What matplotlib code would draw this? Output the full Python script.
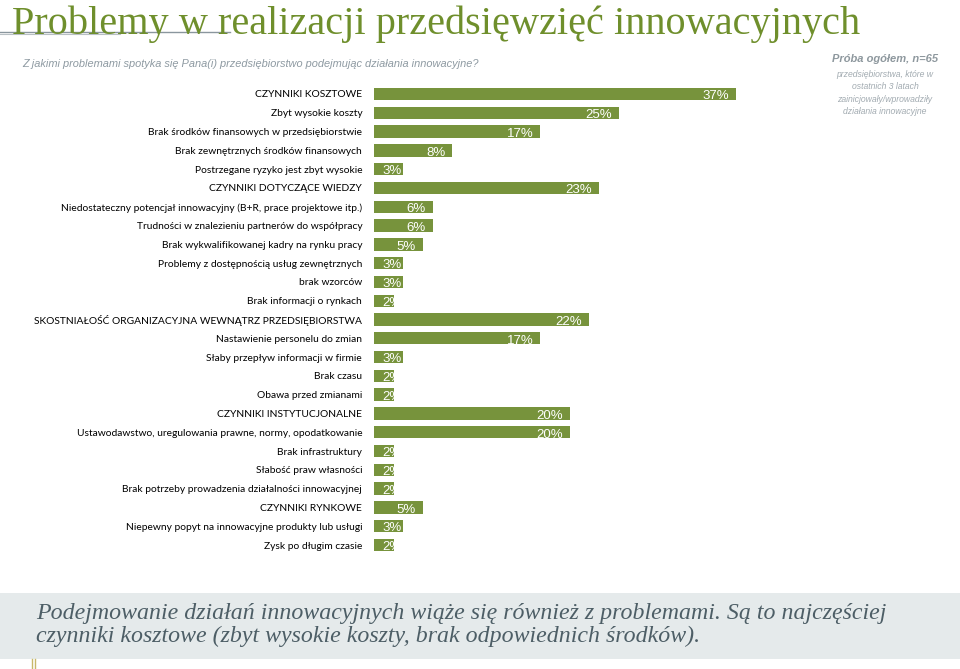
import matplotlib
matplotlib.use('Agg')
import matplotlib.pyplot as plt
from matplotlib.patches import Rectangle
from matplotlib.lines import Line2D

# data
categories = [
    'CZYNNIKI KOSZTOWE',
    'Zbyt wysokie koszty',
    'Brak środków finansowych w przedsiębiorstwie',
    'Brak zewnętrznych środków finansowych',
    'Postrzegane ryzyko jest zbyt wysokie',
    'CZYNNIKI DOTYCZĄCE WIEDZY',
    'Niedostateczny potencjał innowacyjny (B+R, prace projektowe itp.)',
    'Trudności w znalezieniu partnerów do współpracy',
    'Brak wykwalifikowanej kadry na rynku pracy',
    'Problemy z dostępnością usług zewnętrznych',
    'brak wzorców',
    'Brak informacji o rynkach',
    'SKOSTNIAŁOŚĆ ORGANIZACYJNA WEWNĄTRZ PRZEDSIĘBIORSTWA',
    'Nastawienie personelu do zmian',
    'Słaby przepływ informacji w firmie',
    'Brak czasu',
    'Obawa przed zmianami',
    'CZYNNIKI INSTYTUCJONALNE',
    'Ustawodawstwo, uregulowania prawne, normy, opodatkowanie',
    'Brak infrastruktury',
    'Słabość praw własności',
    'Brak potrzeby prowadzenia działalności innowacyjnej',
    'CZYNNIKI RYNKOWE',
    'Niepewny popyt na innowacyjne produkty lub usługi',
    'Zysk po długim czasie',
]
values = [37, 25, 17, 8, 3, 23, 6, 6, 5, 3, 3, 2, 22, 17, 3, 2, 2, 20, 20, 2, 2, 2, 5, 3, 2]

TITLE = 'Problemy w realizacji przedsięwzięć innowacyjnych'
QUESTION = 'Z jakimi problemami spotyka się Pana(i) przedsiębiorstwo podejmując działania innowacyjne?'
SAMPLE_HEAD = 'Próba ogółem, n=65'
SAMPLE_TEXT = 'przedsiębiorstwa, które w\nostatnich 3 latach\nzainicjowały/wprowadziły\ndziałania innowacyjne'
SUMMARY = ('Podejmowanie działań innowacyjnych wiąże się również z problemami. Są to najczęściej\n'
           'czynniki kosztowe (zbyt wysokie koszty, brak odpowiednich środków).')

BAR_COLOR = '#77933c'
TITLE_COLOR = '#6f8f2c'
GRAY = '#8e9aa2'

W, H = 960, 669
fig = plt.figure(figsize=(W / 100, H / 100), dpi=100)
fig.patch.set_facecolor('white')

# bar axes: 9.78 px per percent, bars start at x=374
px_per_pct = 9.78
ax_left, ax_right = 374, 940
ax_top, ax_bot = 84.6, 554.4
ax = fig.add_axes([ax_left / W, 1 - ax_bot / H, (ax_right - ax_left) / W, (ax_bot - ax_top) / H])
n = len(categories)
ypos = list(range(n))
ax.barh(ypos, values, height=0.66, color=BAR_COLOR, edgecolor='none')
ax.set_xlim(0, (ax_right - ax_left) / px_per_pct)
ax.set_ylim(n - 0.5, -0.5)
ax.set_yticks(ypos)
ax.set_yticklabels(categories, fontsize=7.4, family=['Lato', 'DejaVu Sans'], color='black')
ax.tick_params(axis='y', length=0, pad=8.5)
ax.set_xticks([])
for s in ax.spines.values():
    s.set_visible(False)

for y, v in zip(ypos, values):
    if v >= 4:
        ax.text(v - 0.7, y + 0.12, f'{v}%', ha='right', va='center', color='white',
                fontsize=9.5, family='Liberation Sans')
    else:
        ax.text(0.85, y + 0.12, f'{v}%', ha='left', va='center', color='white',
                fontsize=9.5, family='Liberation Sans', clip_on=True)

# title and rule under it
fig.text(12 / W, 1 - 34 / H, TITLE, fontsize=29, family='Liberation Serif', color=TITLE_COLOR,
         ha='left', va='baseline')
fig.add_artist(Line2D([0, 230 / W], [1 - 32 / H, 1 - 32 / H], color='#8a969e', lw=1.0))
fig.add_artist(Line2D([0, 120 / W], [1 - 34 / H, 1 - 34 / H], color='#b8c0c4', lw=0.8))

fig.text(22 / W, 1 - 64 / H, QUESTION, fontsize=7.9, style='italic', family='Liberation Sans',
         color=GRAY, ha='left', va='center')

# sample note on the right
fig.text(885 / W, 1 - 59 / H, SAMPLE_HEAD, fontsize=8.0, style='italic', weight='bold',
         family='Liberation Sans', color='#8e989e', ha='center', va='center')
fig.text(885 / W, 1 - 93 / H, SAMPLE_TEXT, fontsize=6.2, style='italic', family='Liberation Sans',
         color='#a2abb1', ha='center', va='center', linespacing=1.45)

# summary box at the bottom
fig.add_artist(Rectangle((0, 1 - 659 / H), 1, 66 / H, transform=fig.transFigure,
                         facecolor='#e5eaeb', edgecolor='none', zorder=0))
fig.text(36 / W, 1 - 625 / H, SUMMARY, fontsize=17.2, style='italic', family='Liberation Serif',
         color='#4d5e66', ha='left', va='center', linespacing=1.08)
for xx in (32, 35):
    fig.add_artist(Line2D([xx / W, xx / W], [0, 1 - 659 / H], color='#c9b86a', lw=1.0))

fig.savefig('out.png', dpi=100, facecolor='white')
